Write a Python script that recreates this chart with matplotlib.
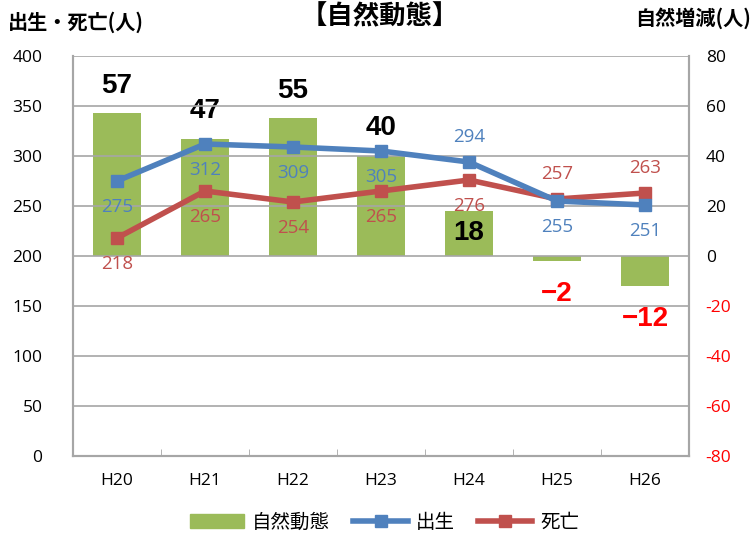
import matplotlib.pyplot as plt
from matplotlib.lines import Line2D
from matplotlib.patches import Patch

plt.rcParams['font.family'] = ['Noto Sans CJK JP', 'DejaVu Sans']
plt.rcParams['axes.unicode_minus'] = False

# データ
years = ['H20', 'H21', 'H22', 'H23', 'H24', 'H25', 'H26']
births = [275, 312, 309, 305, 294, 255, 251]
deaths = [218, 265, 254, 265, 276, 257, 263]
natural = [57, 47, 55, 40, 18, -2, -12]

green = '#9BBB59'
blue = '#4F81BD'
red = '#C0504D'
grid_c = '#A6A6A6'

fig = plt.figure(figsize=(7.54, 5.35), dpi=100)
ax = fig.add_axes([73 / 754, 1 - 456 / 535, 616 / 754, 400 / 535])
ax2 = ax.twinx()
ax.set_zorder(ax2.get_zorder() + 1)
ax.patch.set_visible(False)

x = list(range(len(years)))
num_font = ['Open Sans', 'DejaVu Sans']
bold_font = ['Liberation Sans', 'DejaVu Sans']

# 自然動態（棒）
ax2.bar(x, natural, width=0.54, color=green, zorder=2)
ax2.set_ylim(-80, 80)
ax2.set_yticks(range(-80, 81, 20))
ax2.tick_params(axis='y', length=0, labelsize=12.5, pad=12)
for lbl, v in zip(ax2.get_yticklabels(), range(-80, 81, 20)):
    lbl.set_fontfamily(num_font)
    lbl.set_color('red' if v < 0 else 'black')

# 出生・死亡（折れ線）
ax.plot(x, births, color=blue, lw=4, marker='s', ms=9, zorder=5)
ax.plot(x, deaths, color=red, lw=4, marker='s', ms=9, zorder=4)
ax.set_ylim(0, 400)
ax.set_xlim(-0.5, len(years) - 0.5)
ax.set_yticks(range(0, 401, 50))
ax.grid(axis='y', color=grid_c, lw=1.2)
ax.set_axisbelow(True)
ax.set_xticks(x)
ax.set_xticklabels(years)
ax.set_xticks([i + 0.5 for i in x[:-1]], minor=True)
ax.tick_params(axis='x', which='major', length=0, pad=12, labelsize=12.5)
ax.tick_params(axis='x', which='minor', length=5, direction='in', color=grid_c)
ax.tick_params(axis='y', length=0, labelsize=12.5, pad=22)
for lbl in ax.get_xticklabels() + ax.get_yticklabels():
    lbl.set_fontfamily(num_font)

for a in (ax, ax2):
    a.spines['top'].set_visible(False)
    for s in ['left', 'right', 'bottom']:
        a.spines[s].set_color(grid_c)
        a.spines[s].set_linewidth(1.5)

# データラベル
birth_pos = ['below', 'below', 'below', 'below', 'above', 'below', 'below']
death_pos = ['below', 'below', 'below', 'below', 'below', 'above', 'above']
for i, (b, d) in enumerate(zip(births, deaths)):
    off = 18 if birth_pos[i] == 'above' else -19
    ax.annotate(str(b), (i, b), xytext=(0, off), textcoords='offset points',
                ha='center', va='center', color=blue, fontsize=13.5, family=num_font)
    off = 18 if death_pos[i] == 'above' else -19
    ax.annotate(str(d), (i, d), xytext=(0, off), textcoords='offset points',
                ha='center', va='center', color=red, fontsize=13.5, family=num_font)

for i, v in enumerate(natural):
    if v >= 30:
        ax2.annotate(str(v), (i, v), xytext=(0, 20), textcoords='offset points',
                     ha='center', va='center', fontsize=20, fontweight='bold',
                     family=bold_font)
    elif v > 0:
        ax2.annotate(str(v), (i, v), xytext=(0, -16), textcoords='offset points',
                     ha='center', va='center', fontsize=20, fontweight='bold',
                     family=bold_font)
    else:
        ax2.annotate('\u2212' + str(abs(v)), (i, v), xytext=(0, -24), textcoords='offset points',
                     ha='center', va='center', fontsize=20, fontweight='bold', color='red',
                     family=bold_font)

# タイトル・軸ラベル
fig.text(380 / 754, 1 - 17 / 535, '【自然動態】', ha='center', va='center',
         fontsize=19, fontweight='bold')
fig.text(8 / 754, 1 - 22 / 535, '出生・死亡(人)', ha='left', va='center',
         fontsize=14.5, fontweight='bold')
fig.text(751 / 754, 1 - 18 / 535, '自然増減(人)', ha='right', va='center',
         fontsize=14.5, fontweight='bold')

# 凡例
handles = [Patch(color=green),
           Line2D([], [], color=blue, lw=4, marker='s', ms=9),
           Line2D([], [], color=red, lw=4, marker='s', ms=9)]
fig.legend(handles, ['自然動態', '出生', '死亡'], loc='center',
           bbox_to_anchor=(0.51, 1 - 522 / 535), ncol=3, frameon=False,
           fontsize=14, handlelength=2.8, columnspacing=1.2, handletextpad=0.4)

fig.savefig('out.png', dpi=100)
